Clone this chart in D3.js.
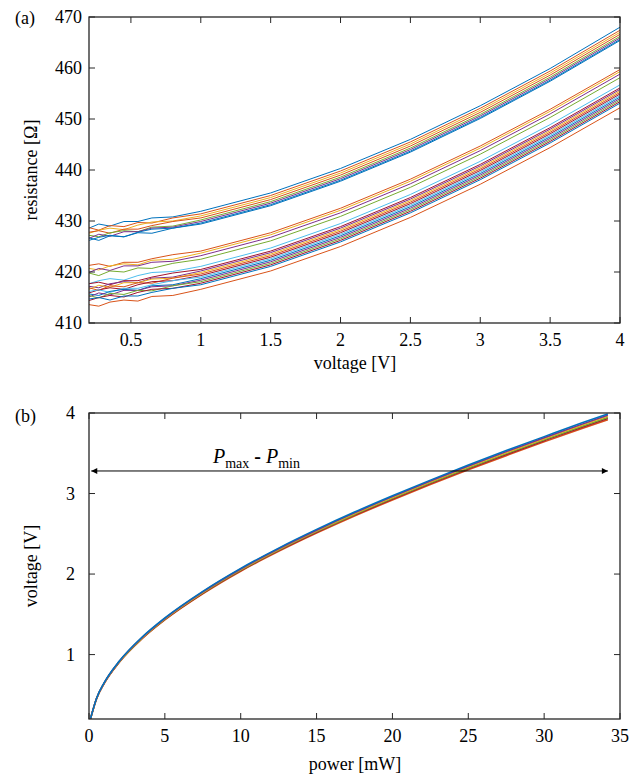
<!DOCTYPE html>
<html>
<head>
<meta charset="utf-8">
<script src="https://cdn.jsdelivr.net/npm/d3@7"></script>
<style>
    body { margin: 0; background: #fff; }
    svg { display: block; font-family: "Liberation Serif", "Times New Roman", serif; }
</style>
</head>
<body>
<svg id="chart" width="644" height="776"></svg>
<script>
// Panel (a): resistance vs voltage
const voltageGrid = [0.2, 0.27, 0.35, 0.45, 0.55, 0.65, 0.8, 1, 1.5, 2, 2.5, 3, 3.5, 4];
const resistanceSeries = [
    [428.6, 429.4, 429.0, 429.9, 429.9, 430.6, 430.8, 431.9, 435.5, 440.3, 446.0, 452.6, 459.9, 468.0],
    [428.7, 428.2, 429.1, 428.9, 429.7, 429.6, 430.6, 431.4, 435.0, 439.8, 445.5, 452.1, 459.4, 467.4],
    [427.6, 428.2, 428.6, 428.3, 429.2, 429.8, 430.0, 431.0, 434.6, 439.4, 445.1, 451.7, 459.0, 467.0],
    [427.8, 428.1, 427.6, 428.4, 428.4, 429.1, 429.9, 430.6, 434.2, 439.0, 444.7, 451.3, 458.6, 466.6],
    [427.2, 426.9, 427.7, 428.1, 427.9, 428.8, 429.0, 430.2, 433.8, 438.6, 444.3, 450.9, 458.2, 466.2],
    [426.6, 427.4, 427.0, 427.9, 427.9, 428.6, 428.8, 429.9, 433.5, 438.3, 444.0, 450.6, 457.9, 465.9],
    [426.2, 426.8, 427.2, 426.9, 427.8, 428.4, 428.6, 429.6, 433.2, 438.0, 443.7, 450.3, 457.6, 465.6],
    [426.7, 426.2, 427.1, 426.9, 427.7, 427.6, 428.6, 429.4, 433.0, 437.8, 443.5, 450.1, 457.4, 465.4],
    [421.3, 421.6, 421.1, 421.9, 421.9, 422.6, 423.4, 424.1, 427.7, 432.5, 438.2, 444.7, 451.9, 459.7],
    [420.7, 420.4, 421.2, 421.6, 421.4, 422.3, 422.5, 423.7, 427.3, 432.1, 437.8, 444.3, 451.5, 459.3],
    [419.9, 420.7, 420.3, 421.2, 421.2, 421.9, 422.1, 423.2, 426.8, 431.6, 437.3, 443.8, 451.0, 458.8],
    [419.8, 419.3, 420.2, 420.0, 420.8, 420.7, 421.7, 422.5, 426.1, 430.9, 436.6, 443.1, 450.3, 458.1],
    [417.7, 418.3, 418.7, 418.4, 419.3, 419.9, 420.1, 421.1, 424.7, 429.5, 435.2, 441.7, 448.9, 456.7],
    [417.7, 418.0, 417.5, 418.3, 418.3, 419.0, 419.8, 420.5, 424.1, 428.9, 434.6, 441.1, 448.3, 456.1],
    [417.2, 416.9, 417.7, 418.1, 417.9, 418.8, 419.0, 420.2, 423.8, 428.6, 434.3, 440.8, 448.0, 455.8],
    [416.6, 417.4, 417.0, 417.9, 417.9, 418.6, 418.8, 419.9, 423.5, 428.3, 434.0, 440.5, 447.7, 455.5],
    [416.9, 416.4, 417.3, 417.1, 417.9, 417.8, 418.8, 419.6, 423.2, 428.0, 433.7, 440.2, 447.4, 455.2],
    [415.9, 416.5, 416.9, 416.6, 417.5, 418.1, 418.3, 419.3, 422.9, 427.7, 433.4, 439.9, 447.1, 454.9],
    [416.2, 416.5, 416.0, 416.8, 416.8, 417.5, 418.3, 419.0, 422.6, 427.4, 433.1, 439.6, 446.8, 454.6],
    [415.7, 415.4, 416.2, 416.6, 416.4, 417.3, 417.5, 418.7, 422.3, 427.1, 432.8, 439.3, 446.5, 454.3],
    [415.1, 415.9, 415.5, 416.4, 416.4, 417.1, 417.3, 418.4, 422.0, 426.8, 432.5, 439.0, 446.2, 454.0],
    [415.4, 414.9, 415.8, 415.6, 416.4, 416.3, 417.3, 418.1, 421.7, 426.5, 432.2, 438.7, 445.9, 453.7],
    [414.4, 415.0, 415.4, 415.1, 416.0, 416.6, 416.8, 417.8, 421.4, 426.2, 431.9, 438.4, 445.6, 453.4],
    [414.7, 415.0, 414.5, 415.3, 415.3, 416.0, 416.8, 417.5, 421.1, 425.9, 431.6, 438.1, 445.3, 453.1],
    [413.6, 413.3, 414.1, 414.5, 414.3, 415.2, 415.4, 416.6, 420.2, 425.0, 430.7, 437.2, 444.4, 452.2]
];
const resistanceColorKeys = [
    'blue', 'orange', 'yellow', 'orange', 'green', 'purple', 'blue', 'blue',
    'orange', 'yellow', 'purple', 'green', 'lightblue', 'darkred', 'purple', 'yellow', 'orange',
    'darkred', 'lightblue', 'blue', 'purple', 'green', 'darkred', 'blue', 'orange'
];
const voltageTicksA = [0.5, 1, 1.5, 2, 2.5, 3, 3.5, 4];
const resistanceTicks = [410, 420, 430, 440, 450, 460, 470];

// Panel (b): voltage vs power
const powerGrid = [0.1, 0.5, 1, 2, 3.5, 5, 7.5, 10, 12.5, 15, 17.5, 20, 22.5, 25, 27.5, 30, 32.5, 34.2];
const voltageSeries = [
    [0.202, 0.451, 0.639, 0.904, 1.196, 1.430, 1.754, 2.035, 2.281, 2.508, 2.720, 2.919, 3.111, 3.294, 3.470, 3.641, 3.808, 3.917],
    [0.203, 0.453, 0.642, 0.907, 1.201, 1.436, 1.761, 2.043, 2.290, 2.518, 2.731, 2.931, 3.123, 3.307, 3.484, 3.656, 3.824, 3.933],
    [0.204, 0.454, 0.644, 0.910, 1.205, 1.440, 1.766, 2.049, 2.297, 2.526, 2.740, 2.940, 3.133, 3.317, 3.495, 3.667, 3.835, 3.945],
    [0.204, 0.456, 0.646, 0.914, 1.209, 1.446, 1.774, 2.057, 2.307, 2.536, 2.750, 2.952, 3.145, 3.331, 3.509, 3.681, 3.851, 3.961],
    [0.205, 0.457, 0.648, 0.917, 1.213, 1.450, 1.779, 2.063, 2.314, 2.544, 2.759, 2.961, 3.155, 3.341, 3.520, 3.692, 3.862, 3.973],
    [0.206, 0.459, 0.651, 0.920, 1.218, 1.456, 1.786, 2.071, 2.323, 2.554, 2.770, 2.973, 3.167, 3.354, 3.534, 3.707, 3.878, 3.989]
];
const voltageColorKeys = ['orange', 'darkred', 'green', 'yellow', 'purple', 'blue'];
const powerTicks = [0, 5, 10, 15, 20, 25, 30, 35];
const voltageTicksB = [1, 2, 3, 4];
const arrowVoltage = 3.28;
const arrowPower = [0.15, 34.2];

// MATLAB default line colours
const palette = {
    blue: '#0072BD', orange: '#D95319', yellow: '#EDB120', purple: '#7E2F8E',
    green: '#77AC30', lightblue: '#4DBEEE', darkred: '#A2142F'
};
const axisColor = '#262626';
const fontSize = 18;
const tickLen = 6;

const svg = d3.select('#chart');
svg.append('rect').attr('width', 644).attr('height', 776).attr('fill', '#fff');

const defs = svg.append('defs');
defs.append('marker')
    .attr('id', 'arrowhead')
    .attr('viewBox', '0 0 10 10')
    .attr('refX', 10).attr('refY', 5)
    .attr('markerWidth', 9).attr('markerHeight', 6)
    .attr('markerUnits', 'userSpaceOnUse')
    .attr('orient', 'auto-start-reverse')
    .append('path')
    .attr('d', 'M0,0 L10,5 L0,10 Z')
    .attr('fill', '#000');

// Draw a MATLAB-style boxed axes with inward ticks on all sides
function drawFrame(g, x, y, xTicks, yTicks, xFmt, yLabelGap) {
    const [x0, x1] = x.range();
    const [y0, y1] = y.range(); // y0 bottom, y1 top

    xTicks.forEach(t => {
        const px = x(t);
        g.append('line').attr('x1', px).attr('x2', px).attr('y1', y0).attr('y2', y0 - tickLen)
            .attr('stroke', axisColor);
        g.append('line').attr('x1', px).attr('x2', px).attr('y1', y1).attr('y2', y1 + tickLen)
            .attr('stroke', axisColor);
        g.append('text').attr('x', px).attr('y', y0 + 23)
            .attr('text-anchor', 'middle').attr('font-size', fontSize)
            .text(xFmt(t));
    });

    yTicks.forEach(t => {
        const py = y(t);
        g.append('line').attr('x1', x0).attr('x2', x0 + tickLen).attr('y1', py).attr('y2', py)
            .attr('stroke', axisColor);
        g.append('line').attr('x1', x1).attr('x2', x1 - tickLen).attr('y1', py).attr('y2', py)
            .attr('stroke', axisColor);
        g.append('text').attr('x', x0 - yLabelGap).attr('y', py).attr('dy', '0.35em')
            .attr('text-anchor', 'end').attr('font-size', fontSize)
            .text(t);
    });

    g.append('rect')
        .attr('x', x0).attr('y', y1)
        .attr('width', x1 - x0).attr('height', y0 - y1)
        .attr('fill', 'none').attr('stroke', axisColor).attr('stroke-width', 1.3);
}

// ---------- Panel (a) ----------
const xA = d3.scaleLinear().domain([0.2, 4]).range([89, 620]);
const yA = d3.scaleLinear().domain([410, 470]).range([323, 17]);
const gA = svg.append('g');

defs.append('clipPath').attr('id', 'clipA')
    .append('rect').attr('x', 89).attr('y', 17).attr('width', 531).attr('height', 306);

const lineA = d3.line()
    .x((d, i) => xA(voltageGrid[i]))
    .y(d => yA(d));

gA.append('g').attr('clip-path', 'url(#clipA)')
    .selectAll('path')
    .data(resistanceSeries)
    .enter()
    .append('path')
    .attr('d', lineA)
    .attr('fill', 'none')
    .attr('stroke', (d, i) => palette[resistanceColorKeys[i]])
    .attr('stroke-width', 1);

drawFrame(gA, xA, yA, voltageTicksA, resistanceTicks, d => d, 7);

gA.append('text').attr('x', 15).attr('y', 24).attr('font-size', fontSize).text('(a)');
gA.append('text').attr('x', 355).attr('y', 369).attr('text-anchor', 'middle')
    .attr('font-size', fontSize).text('voltage [V]');
gA.append('text').attr('transform', 'translate(37,170) rotate(-90)')
    .attr('text-anchor', 'middle').attr('font-size', fontSize).text('resistance [Ω]');

// ---------- Panel (b) ----------
const xB = d3.scaleLinear().domain([0, 35]).range([89, 620]);
const yB = d3.scaleLinear().domain([0.2, 4]).range([719, 413]);
const gB = svg.append('g');

const lineB = d3.line()
    .x((d, i) => xB(powerGrid[i]))
    .y(d => yB(d))
    .curve(d3.curveMonotoneX);

gB.selectAll('path.vp')
    .data(voltageSeries)
    .enter()
    .append('path')
    .attr('class', 'vp')
    .attr('d', lineB)
    .attr('fill', 'none')
    .attr('stroke', (d, i) => palette[voltageColorKeys[i]])
    .attr('stroke-width', 1.5);

// arrow spanning P_min .. P_max
gB.append('line')
    .attr('x1', xB(arrowPower[0])).attr('x2', xB(arrowPower[1]))
    .attr('y1', yB(arrowVoltage)).attr('y2', yB(arrowVoltage))
    .attr('stroke', '#000').attr('stroke-width', 1)
    .attr('marker-start', 'url(#arrowhead)')
    .attr('marker-end', 'url(#arrowhead)');

const label = gB.append('text').attr('x', 213).attr('y', 463).attr('font-size', 20);
label.append('tspan').attr('font-style', 'italic').text('P');
label.append('tspan').attr('font-size', 14).attr('dy', 5).text('max');
label.append('tspan').attr('dy', -5).attr('font-weight', 'bold').text(' - ');
label.append('tspan').attr('font-style', 'italic').text('P');
label.append('tspan').attr('font-size', 14).attr('dy', 5).text('min');

drawFrame(gB, xB, yB, powerTicks, voltageTicksB, d => d, 14);

gB.append('text').attr('x', 15).attr('y', 422).attr('font-size', fontSize).text('(b)');
gB.append('text').attr('x', 355).attr('y', 770).attr('text-anchor', 'middle')
    .attr('font-size', fontSize).text('power [mW]');
gB.append('text').attr('transform', 'translate(37,566) rotate(-90)')
    .attr('text-anchor', 'middle').attr('font-size', fontSize).text('voltage [V]');
</script>
</body>
</html>
